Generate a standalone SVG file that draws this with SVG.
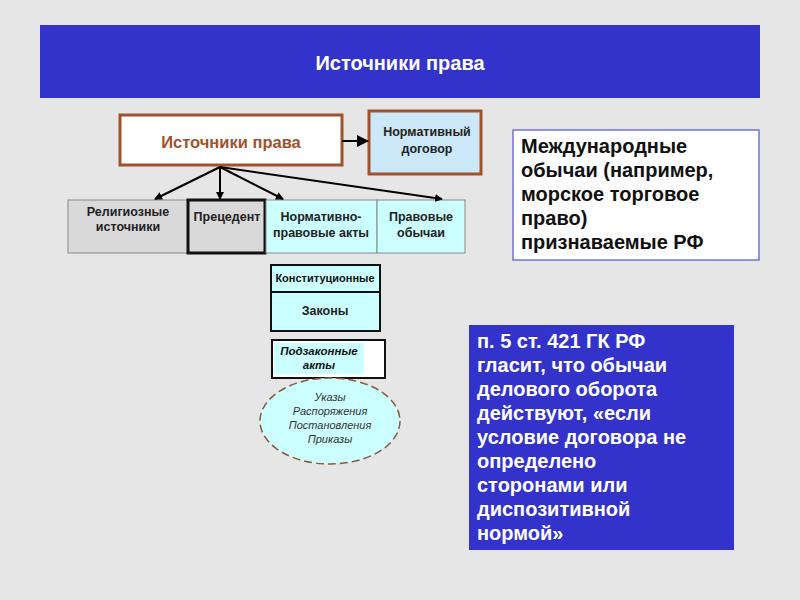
<svg xmlns="http://www.w3.org/2000/svg" width="800" height="600" viewBox="0 0 800 600">
<style>
text{font-family:"Liberation Sans",Arial,sans-serif;font-weight:bold}
.s{font-size:12.5px;fill:#222;text-anchor:middle}
.c{stroke:#000;stroke-width:2;fill:none}
.w{font-size:20px}
.n{font-weight:normal;font-style:italic}
</style>
<defs><marker id="a" markerWidth="8" markerHeight="8" refX="7" refY="4" orient="auto" markerUnits="userSpaceOnUse"><path d="M0,0L8,4L0,8z" fill="#000"/></marker>
<marker id="b" markerWidth="12" markerHeight="12" refX="11" refY="6" orient="auto" markerUnits="userSpaceOnUse"><path d="M0,0L12,6L0,12z" fill="#000"/></marker></defs>
<rect width="800" height="600" fill="#e6e6e6"/>
<g id="header"><rect x="40" y="25" width="720" height="73" fill="#3333cc"/><text x="400" y="70" fill="#fff" font-size="20" text-anchor="middle">Источники права</text></g>
<g id="root"><rect x="120" y="115" width="222" height="50" fill="#fff" stroke="#a0522d" stroke-width="3"/><text x="231" y="148" fill="#a0522d" font-size="16.5" text-anchor="middle">Источники права</text></g>
<g id="treaty"><rect x="369" y="111" width="112" height="63" fill="#cce8f8" stroke="#a0522d" stroke-width="3"/><text class="s" x="427" y="136">Нормативный</text><text class="s" x="427" y="153">договор</text></g>
<g id="rel"><rect x="68" y="200" width="120" height="53" fill="#d9d9d9" stroke="#888"/><text class="s" x="128" y="216">Религиозные</text><text class="s" x="128" y="231">источники</text></g>
<g id="prec"><rect x="188" y="200" width="77" height="53" fill="#d9d9d9" stroke="#111" stroke-width="3"/><text class="s" x="227" y="221">Прецедент</text></g>
<g id="npa"><rect x="266" y="200" width="111" height="53" fill="#ccffff" stroke="#888"/><text class="s" x="321" y="221">Нормативно-</text><text class="s" x="321" y="237">правовые акты</text></g>
<g id="custom"><rect x="377" y="200" width="88" height="53" fill="#ccffff" stroke="#888"/><text class="s" x="421" y="221">Правовые</text><text class="s" x="421" y="237">обычаи</text></g>
<g id="konst"><rect x="271" y="265" width="109" height="27" fill="#ccffff" stroke="#111" stroke-width="2"/><text x="325" y="282" font-size="11" text-anchor="middle" fill="#111">Конституционные</text></g>
<g id="laws"><rect x="271" y="292" width="109" height="39" fill="#ccffff" stroke="#111" stroke-width="2"/><text class="s" x="325" y="315">Законы</text></g>
<g id="podz"><rect x="272" y="340" width="113" height="38" fill="#fff" stroke="#111" stroke-width="2"/><rect x="274" y="343" width="90" height="31" fill="#ccffff"/><text x="319" y="355" font-size="11.5" font-style="italic" text-anchor="middle" fill="#111">Подзаконные</text><text x="319" y="369" font-size="11.5" font-style="italic" text-anchor="middle" fill="#111">акты</text></g>
<g id="ell"><ellipse cx="330" cy="421" rx="70" ry="43" fill="#ccffff" stroke="#8b5a3c" stroke-width="1.5" stroke-dasharray="8,4"/><g font-size="11" fill="#333" text-anchor="middle"><text class="n" x="330" y="401">Указы</text><text class="n" x="330" y="415">Распоряжения</text><text class="n" x="330" y="429">Постановления</text><text class="n" x="330" y="443">Приказы</text></g></g>
<g id="intl"><rect x="513" y="130" width="246" height="130" fill="#fff" stroke="#3333cc"/><g class="w" fill="#111"><text x="521" y="153">Международные</text><text x="521" y="177">обычаи (например,</text><text x="521" y="201">морское торговое</text><text x="521" y="225">право)</text><text x="521" y="249">признаваемые РФ</text></g></g>
<g id="gk"><rect x="469" y="325" width="265" height="225" fill="#3333cc"/><g class="w" fill="#fff"><text x="477" y="348">п. 5 ст. 421 ГК РФ</text><text x="477" y="372">гласит, что обычаи</text><text x="477" y="396">делового оборота</text><text x="477" y="420">действуют, «если</text><text x="477" y="444">условие договора не</text><text x="477" y="468">определено</text><text x="477" y="492">сторонами или</text><text x="477" y="516">диспозитивной</text><text x="477" y="540">нормой»</text></g></g>
<g id="connectors">
<line class="c" x1="342" y1="141" x2="368" y2="141" stroke-width="3" marker-end="url(#b)"/>
<line class="c" x1="220" y1="167" x2="155" y2="199" marker-end="url(#a)"/>
<line class="c" x1="220" y1="167" x2="220" y2="199" marker-end="url(#a)"/>
<line class="c" x1="220" y1="167" x2="283" y2="199" marker-end="url(#a)"/>
<line class="c" x1="220" y1="167" x2="442" y2="199" marker-end="url(#a)"/>
</g>
</svg>
